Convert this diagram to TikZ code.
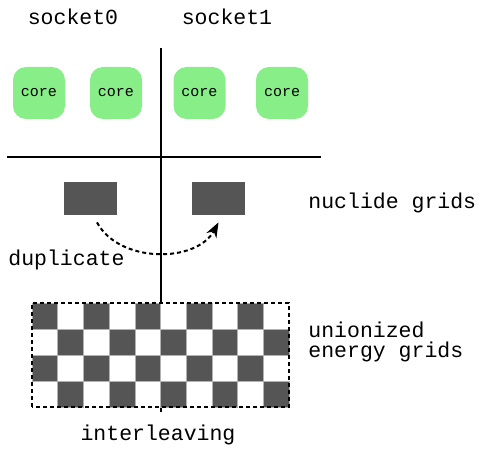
\documentclass[tikz,border=0pt]{standalone}
\usepackage{fontspec}
\setmonofont{Liberation Mono}
\usepackage{tikz}
\usetikzlibrary{arrows.meta,calc}

\definecolor{coregreen}{RGB}{136,238,136}
\definecolor{griddark}{RGB}{85,85,85}

\begin{document}
\begin{tikzpicture}[x=0.5pt,y=0.5pt,>=Stealth,
    lab/.style={font=\ttfamily\fontsize{10.75}{10}\selectfont,inner sep=0pt},
    corebox/.style={fill=coregreen,rounded corners=6.5pt,minimum size=26pt,inner sep=0pt,
        font=\ttfamily\fontsize{7.5}{8}\selectfont},
    nucbox/.style={fill=griddark,minimum width=26.5pt,minimum height=16.5pt,inner sep=0pt},
    dup/.style={->,line width=1pt,dash pattern=on 2pt off 1.5pt}]
    \useasboundingbox (0,0) rectangle (498,450);

    % dividers
    \draw[line width=0.75pt] (161,402) -- (161,38);
    \draw[line width=0.75pt] (7,293) -- (321,293);

    \node[lab] (sock0) at (73,433) {socket0};
    \node[lab] (sock1) at (227,433) {socket1};
    \foreach \x/\n in {39/0,116/1,199.5/2,282/3}{
        \node[corebox] (core\n) at (\x,357) {core};
    }

    % nuclide grids
    \node[nucbox] (nuc0) at (90.5,251.5) {};
    \node[nucbox] (nuc1) at (218.5,251.5) {};
    \node[lab,anchor=west] (nuclab) at (308,247) {nuclide grids};
    \draw[dup] ($(nuc0.south)+(6.5,-7)$) .. controls +(22,-41) and +(-22,-41) .. ($(nuc1.south)+(0,-7)$);
    \node[lab,anchor=west] (duplab) at (8,190) {duplicate};

    % unionized energy grid
    \fill[white] (32,43) rectangle (289,147);
    \foreach \i in {0,...,9}{
        \foreach \j in {0,...,3}{
            \pgfmathparse{int(mod(\i+\j,2))}
            \ifnum\pgfmathresult=1
                \filldraw[fill=griddark,draw=gray!60,line width=0.3pt] (32+\i*25.7,43+\j*26) rectangle ++(25.7,26);
            \fi
        }
    }
    \draw[line width=0.75pt,dash pattern=on 2pt off 1.5pt] (32,43) rectangle (289,147);
    \node[lab,anchor=west,align=left] (unilab) at (308,108) {unionized\\energy grids};
    \node[lab] (interlab) at (158,15) {interleaving};
\end{tikzpicture}
\end{document}
